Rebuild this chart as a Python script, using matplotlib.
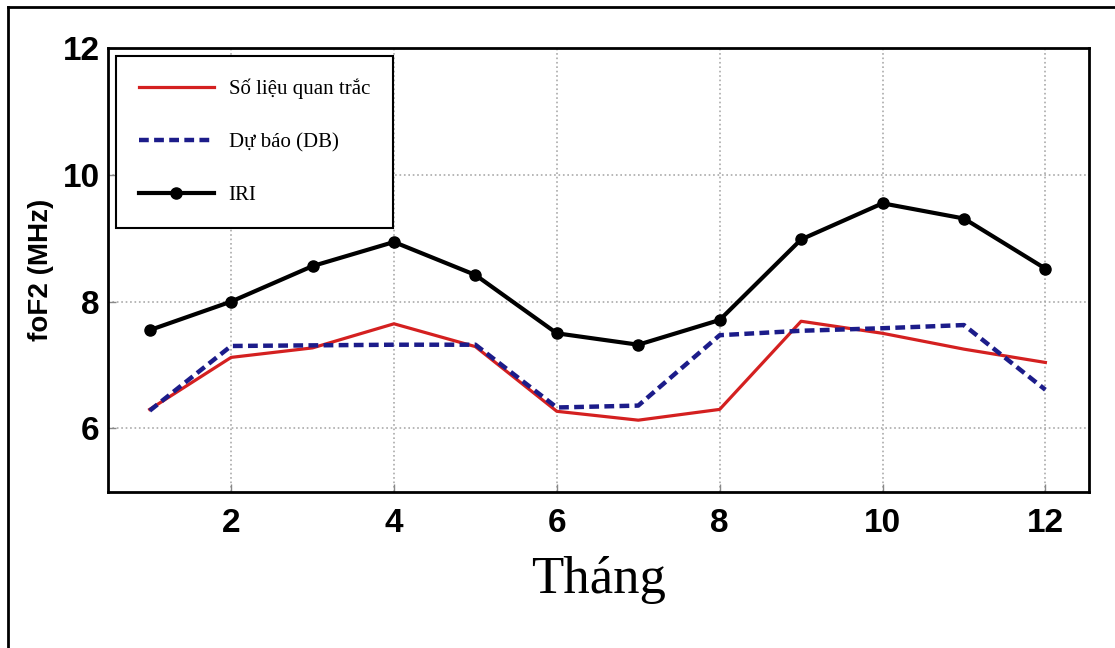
import matplotlib.pyplot as plt
from matplotlib.lines import Line2D

# Monthly foF2 values (MHz)
months = [1, 2, 3, 4, 5, 6, 7, 8, 9, 10, 11, 12]
observed = [6.30, 7.12, 7.27, 7.65, 7.29, 6.27, 6.13, 6.30, 7.69, 7.50, 7.25, 7.04]
forecast = [6.28, 7.30, 7.31, 7.32, 7.32, 6.33, 6.36, 7.47, 7.54, 7.58, 7.63, 6.61]
iri = [7.55, 8.00, 8.56, 8.94, 8.42, 7.50, 7.32, 7.71, 8.98, 9.55, 9.31, 8.52]

xticks = [2, 4, 6, 8, 10, 12]
yticks = [6, 8, 10, 12]

tick_font = ['Liberation Sans', 'DejaVu Sans']
serif_font = ['Liberation Serif', 'DejaVu Serif']

fig = plt.figure(figsize=(11.15, 6.48), dpi=100)
ax = fig.add_axes([0.097, 0.241, 0.880, 0.685])

ax.plot(months, observed, color='#d42020', lw=2.3, label='Số liệu quan trắc', zorder=3)
ax.plot(months, forecast, color='#1c1c8a', lw=3.2, ls=(0, (2.2, 1.2)), label='Dự báo (DB)', zorder=4)
ax.plot(months, iri, color='black', lw=3, marker='o', ms=8, label='IRI', zorder=5)

ax.set_xlim(0.49, 12.54)
ax.set_ylim(5, 12)
ax.set_xticks(xticks)
ax.set_yticks(yticks)
ax.grid(True, color='#aaaaaa', ls=':', lw=1.2)
ax.tick_params(axis='x', direction='in', length=6, width=1, color='#888888', pad=12)
ax.tick_params(axis='y', direction='in', length=6, width=1, color='#888888', pad=6)
for lab in ax.get_xticklabels() + ax.get_yticklabels():
    lab.set_family(tick_font)
    lab.set_fontweight('bold')
    lab.set_fontsize(24)
for s in ax.spines.values():
    s.set_linewidth(2)

ax.set_xlabel('Tháng', family=serif_font, fontsize=38, labelpad=12)
ax.set_ylabel('foF2 (MHz)', family=tick_font, fontweight='bold', fontsize=20)
ax.yaxis.set_label_coords(-0.068, 0.5)
ax.yaxis.label.set_va('center')

leg = ax.legend(loc='upper left', bbox_to_anchor=(0.008, 0.982), prop={'family': serif_font, 'size': 15},
                fancybox=False, framealpha=1, edgecolor='black', handlelength=3.6,
                labelspacing=1.6, borderpad=1.1, handletextpad=0.7, borderaxespad=0)
leg.get_frame().set_linewidth(1.5)

# outer frame lines of the original figure
fig.add_artist(Line2D([0.007, 0.007], [0.0, 0.989], color='black', lw=2, transform=fig.transFigure))
fig.add_artist(Line2D([0.007, 1.0], [0.989, 0.989], color='black', lw=2, transform=fig.transFigure))

fig.savefig('out.png', dpi=100)
